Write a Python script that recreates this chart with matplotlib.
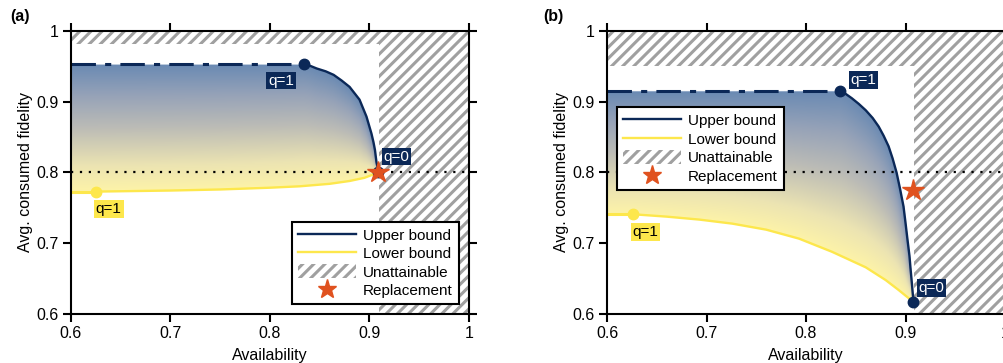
import numpy as np
import matplotlib
matplotlib.use("Agg")
import matplotlib.pyplot as plt
from matplotlib.colors import LinearSegmentedColormap
from matplotlib.lines import Line2D
from matplotlib.patches import Patch, Polygon

plt.rcParams["font.family"] = ["Liberation Sans", "DejaVu Sans"]
plt.rcParams["font.size"] = 11.5
plt.rcParams["hatch.linewidth"] = 2.2

NAVY = "#0b2857"
YELLOW = "#fde74c"
STAR = "#e0521f"
HATCH = "#a0a0a0"

# panel (a): bounds (q=1 ... q=0)
A_UP_X = [0.834, 0.840, 0.847, 0.856, 0.864, 0.872, 0.880, 0.885, 0.890, 0.897,
          0.8995, 0.902, 0.904, 0.9055, 0.907, 0.908, 0.909]
A_UP_Y = [0.953, 0.951, 0.947, 0.943, 0.938, 0.930, 0.921, 0.912, 0.903, 0.879,
          0.867, 0.855, 0.843, 0.832, 0.815, 0.808, 0.800]
A_LO_X = [0.625, 0.65, 0.70, 0.75, 0.80, 0.83, 0.86, 0.88, 0.895, 0.909]
A_LO_Y = [0.773, 0.7735, 0.7745, 0.776, 0.7785, 0.7805, 0.784, 0.788, 0.7925, 0.800]
A_CEIL, A_WALL = 0.982, 0.9095
A_STAR = (0.909, 0.800)

# panel (b)
B_UP_X = [0.834, 0.840, 0.846, 0.853, 0.860, 0.867, 0.873, 0.878, 0.883, 0.887,
          0.891, 0.8945, 0.898, 0.900, 0.902, 0.904, 0.905, 0.9065, 0.908]
B_UP_Y = [0.915, 0.911, 0.905, 0.897, 0.888, 0.877, 0.865, 0.852, 0.837, 0.820,
          0.800, 0.777, 0.752, 0.729, 0.705, 0.682, 0.665, 0.642, 0.617]
B_LO_X = [0.626, 0.66, 0.693, 0.726, 0.760, 0.793, 0.826, 0.843, 0.860, 0.870,
          0.880, 0.893, 0.900, 0.908]
B_LO_Y = [0.741, 0.7376, 0.7334, 0.7277, 0.7192, 0.7065, 0.688, 0.677, 0.666, 0.657,
          0.648, 0.634, 0.626, 0.617]
B_CEIL, B_WALL = 0.950, 0.909
B_STAR = (0.908, 0.775)

TICKS = [0.6, 0.7, 0.8, 0.9, 1.0]
TICK_LABELS = ["0.6", "0.7", "0.8", "0.9", "1"]

CMAP = LinearSegmentedColormap.from_list(
    "fid", [(0.0, "#fdf3a8"), (0.2, "#ece4b2"), (0.5, "#bcbcb6"),
            (0.75, "#97a3b8"), (1.0, "#6a8ab3")])

DASHDOT = (0, (8, 3, 2, 3))


def fill_gradient(ax, ux, uy, lx, ly, xmax):
    gx = np.linspace(0.6, xmax, 700)
    gy = np.linspace(0.6, 1.0, 700)
    X, Y = np.meshgrid(gx, gy)
    up = np.interp(gx, [0.6] + ux, [uy[0]] + uy)
    lo = np.interp(gx, [0.6] + lx, [ly[0]] + ly)
    t = (Y - lo) / (up - lo)
    rgba = CMAP(np.clip(t, 0, 1))
    rgba[..., 3] = np.where((t >= 0) & (t <= 1), 1.0, 0.0)
    ax.imshow(rgba, extent=[0.6, xmax, 0.6, 1.0], origin="lower",
              aspect="auto", interpolation="bilinear", zorder=1)


def label(ax, x, y, s, fc, tc):
    ax.text(x, y, s, ha="center", va="center", color=tc, fontsize=11, zorder=8,
            bbox=dict(boxstyle="square,pad=0.12", fc=fc, ec="none"))


def panel(ax, ux, uy, lx, ly, ceil, wall, star, labs):
    hatch = Polygon([(0.6, ceil), (wall, ceil), (wall, 0.6), (1, 0.6), (1, 1), (0.6, 1)],
                    closed=True, facecolor="white", edgecolor=HATCH, lw=0,
                    hatch="///", zorder=0)
    ax.add_patch(hatch)
    fill_gradient(ax, ux, uy, lx, ly, wall)
    ax.axhline(0.8, color="black", ls=(0, (1, 3)), lw=1.6, zorder=3)

    ax.plot([0.6, ux[0]], [uy[0], uy[0]], color=NAVY, lw=2.2, ls=DASHDOT, zorder=4)
    ax.plot([0.6, lx[0]], [ly[0], ly[0]], color=YELLOW, lw=2.2, ls=DASHDOT, zorder=4)
    ax.plot(ux, uy, color=NAVY, lw=1.7, zorder=5)
    ax.plot(lx, ly, color=YELLOW, lw=1.7, zorder=5)
    ax.plot(ux[0], uy[0], "o", color=NAVY, ms=7.5, zorder=6)
    ax.plot(lx[0], ly[0], "o", color=YELLOW, ms=7.5, zorder=6)
    ax.plot(ux[-1], uy[-1], "o", color=NAVY, ms=7.5, zorder=6)
    ax.plot(*star, marker="*", color=STAR, ms=16, ls="none", zorder=7)

    (x1, y1), (x0, y0), (xl, yl) = labs
    label(ax, x1, y1, "q=1", NAVY, "white")
    label(ax, x0, y0, "q=0", NAVY, "white")
    label(ax, xl, yl, "q=1", YELLOW, "black")

    ax.set_xlim(0.6, 1.0)
    ax.set_ylim(0.6, 1.0)
    ax.set_xticks(TICKS)
    ax.set_xticklabels(TICK_LABELS)
    ax.set_yticks(TICKS)
    ax.set_yticklabels(TICK_LABELS)
    ax.tick_params(direction="out", top=True, right=True, length=6, width=1.5,
                   labelsize=11.5, pad=3)
    for sp in ax.spines.values():
        sp.set_linewidth(1.5)
        sp.set_zorder(10)
    ax.set_xlabel("Availability", fontsize=11.5, labelpad=5)
    ax.set_ylabel("Avg. consumed fidelity", fontsize=11.5, labelpad=2)


def legend(ax, loc, anchor):
    handles = [
        Line2D([], [], color=NAVY, lw=1.7),
        Line2D([], [], color=YELLOW, lw=1.7),
        Patch(facecolor="white", edgecolor=HATCH, lw=0, hatch="///"),
        Line2D([], [], marker="*", color=STAR, ms=14, ls="none"),
    ]
    names = ["Upper bound", "Lower bound", "Unattainable", "Replacement"]
    leg = ax.legend(handles, names, loc=loc, bbox_to_anchor=anchor, fontsize=11,
                    fancybox=False, edgecolor="black", framealpha=1,
                    borderaxespad=0, handlelength=3.8, handleheight=1.0,
                    labelspacing=0.22, handletextpad=0.45, borderpad=0.4)
    leg.get_frame().set_linewidth(1.5)
    leg.set_zorder(20)


fig = plt.figure(figsize=(10.04, 3.63), dpi=100)
ax_a = fig.add_axes([0.0707, 0.135, 0.3964, 0.7796])
ax_b = fig.add_axes([0.6046, 0.135, 0.3964, 0.7796])

panel(ax_a, A_UP_X, A_UP_Y, A_LO_X, A_LO_Y, A_CEIL, A_WALL, A_STAR,
      [(0.811, 0.930), (0.927, 0.8226), (0.638, 0.7484)])
legend(ax_a, "lower right", (0.975, 0.035))

panel(ax_b, B_UP_X, B_UP_Y, B_LO_X, B_LO_Y, B_CEIL, B_WALL, B_STAR,
      [(0.858, 0.9307), (0.926, 0.6367), (0.6385, 0.716)])
legend(ax_b, "upper left", (0.025, 0.731))

fig.text(0.010, 0.955, "(a)", fontsize=11.5, weight="bold", va="center")
fig.text(0.541, 0.955, "(b)", fontsize=11.5, weight="bold", va="center")

fig.savefig("out.png", dpi=100, facecolor="white")
